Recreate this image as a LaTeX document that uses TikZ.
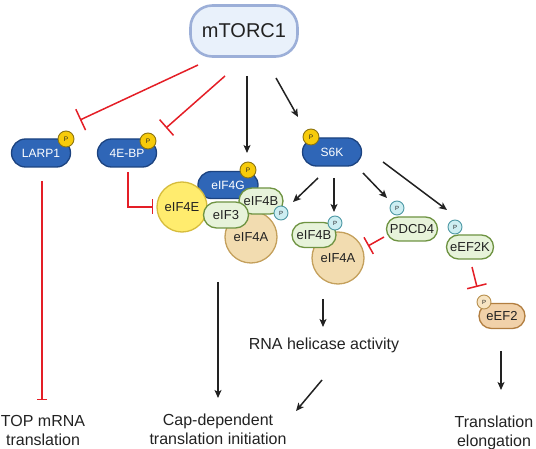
\documentclass[tikz,border=0pt]{standalone}
\usepackage{fontspec}
\setmainfont{Liberation Sans}
\usetikzlibrary{arrows.meta,shapes.misc}
\definecolor{bluef}{HTML}{2F66B7}
\definecolor{blued}{HTML}{1C4380}
\definecolor{mtf}{HTML}{E9F1FB}
\definecolor{mtd}{HTML}{9CAFD8}
\definecolor{yelf}{HTML}{F7CB0A}
\definecolor{yeld}{HTML}{8C7410}
\definecolor{cyf}{HTML}{CDEEF2}
\definecolor{cyd}{HTML}{4E99A5}
\definecolor{e4ef}{HTML}{FFEC6E}
\definecolor{e4ed}{HTML}{D6BC3C}
\definecolor{grf}{HTML}{E7F3DA}
\definecolor{grd}{HTML}{6E9342}
\definecolor{bgf}{HTML}{F2DCB0}
\definecolor{bgd}{HTML}{C4A05C}
\definecolor{eef}{HTML}{F1D1A9}
\definecolor{eed}{HTML}{B27E40}
\definecolor{pbf}{HTML}{F7E4C2}
\definecolor{pbd}{HTML}{B8904E}
\definecolor{inhred}{HTML}{E41E26}
\definecolor{txt}{HTML}{222222}
\tikzset{
  mtbox/.style={rectangle, rounded corners=22pt, draw=mtd, line width=2.6pt, fill=mtf,
    minimum width=107pt, minimum height=51pt, inner sep=0pt, text=txt,
    font=\fontsize{20}{24}\selectfont},
  bluepill/.style={rounded rectangle, draw=blued, line width=1.3pt, fill=bluef,
    minimum width=59pt, minimum height=28pt, inner sep=0pt, text=white,
    font=\fontsize{12}{14}\selectfont},
  greenpill/.style={rounded rectangle, draw=grd, line width=1.3pt, fill=grf,
    minimum height=25pt, inner sep=0pt, text=txt,
    font=\fontsize{13}{15}\selectfont},
  beigecirc/.style={circle, draw=bgd, line width=1.3pt, fill=bgf,
    minimum size=52pt, inner sep=0pt, text=txt, font=\fontsize{13}{15}\selectfont},
  yelcirc/.style={circle, draw=e4ed, line width=1.3pt, fill=e4ef,
    minimum size=50pt, inner sep=0pt, text=txt, font=\fontsize{13}{15}\selectfont},
  eefpill/.style={rounded rectangle, draw=eed, line width=1.3pt, fill=eef,
    minimum width=46pt, minimum height=25pt, inner sep=0pt, text=txt,
    font=\fontsize{13}{15}\selectfont},
  pyel/.style={circle, draw=yeld, line width=0.9pt, fill=yelf, minimum size=16pt,
    inner sep=0pt, text=txt, font=\fontsize{6.5}{7}\selectfont},
  pcy/.style={circle, draw=cyd, line width=0.9pt, fill=cyf, minimum size=14pt,
    inner sep=0pt, text=txt, font=\fontsize{6}{7}\selectfont},
  pbe/.style={circle, draw=pbd, line width=0.9pt, fill=pbf, minimum size=14pt,
    inner sep=0pt, text=txt, font=\fontsize{6}{7}\selectfont},
  lbl/.style={align=center, inner sep=0pt, text=txt, font=\fontsize{16}{19}\selectfont},
  act/.style={draw=txt, line width=1.5pt, -{Stealth[length=8pt,width=7pt,inset=2pt]}},
  inh/.style={draw=inhred, line width=1.5pt, -{Bar[width=#1,line width=1.5pt]}},
  inh/.default=20pt
}
\begin{document}
\begin{tikzpicture}[x=1pt,y=-1pt]
\useasboundingbox (0,0) rectangle (536,449);
% main node
\node[mtbox] (mtorc) at (244,31) {mTORC1};
% first row
\node[bluepill] (larp1) at (41,153) {LARP1};
\node[pyel] (larp1p) at (66,139) {P};
\node[bluepill] (ebp) at (127,153) {4E-BP};
\node[pyel] (ebpp) at (148,141) {P};
\node[bluepill] (s6k) at (332,152) {S6K};
\node[pyel] (s6kp) at (311,137) {P};
% initiation complex
\node[beigecirc] (eif4aa) at (251,237) {\raisebox{-8pt}{eIF4A}};
\node[bluepill, minimum width=60pt, minimum height=27pt] (eif4g) at (228,185) {eIF4G};
\node[pyel] (eif4gp) at (248,170) {P};
\node[yelcirc] (eif4e) at (182,207) {eIF4E};
\node[greenpill, minimum width=44pt, minimum height=26pt] (eif4ba) at (261,201) {eIF4B};
\node[pcy] (eif4bap) at (281,213) {P};
\node[greenpill, minimum width=45pt, minimum height=26pt] (eif3) at (226,215) {eIF3};
% S6K targets
\node[beigecirc] (eif4ab) at (338,258) {\raisebox{-6pt}{eIF4A}};
\node[greenpill, minimum width=44pt] (eif4bb) at (314,235) {eIF4B};
\node[pcy] (eif4bbp) at (335,223) {P};
\node[greenpill, minimum width=51pt, minimum height=24pt] (pdcd4) at (412,229) {PDCD4};
\node[pcy] (pdcd4p) at (397,208) {P};
\node[greenpill, minimum width=47pt, minimum height=24pt] (eef2k) at (470,247) {eEF2K};
\node[pcy] (eef2kp) at (455,227) {P};
\node[eefpill] (eef2) at (502,316) {eEF2};
\node[pbe] (eef2p) at (484,302) {P};
% outcome labels
\node[lbl] (top) at (43,430) {TOP mRNA\\translation};
\node[lbl] (cap) at (218,429) {Cap-dependent\\translation initiation};
\node[lbl] (heli) at (324,345) {RNA helicase activity};
\node[lbl] (elong) at (494,433) {Translation\\elongation};
% connectors from mTORC1
\draw[inh=23pt] ([shift={(-46,34)}]mtorc.center) -- ([shift={(39,-33)}]larp1.center);
\draw[inh=21pt] ([shift={(-19,45)}]mtorc.center) -- ([shift={(39,-25)}]ebp.center);
\draw[act] ([shift={(3,45)}]mtorc.center) -- ([shift={(19,-32)}]eif4g.center);
\draw[act] ([shift={(32,47)}]mtorc.center) -- ([shift={(-34,-35)}]s6k.center);
% LARP1 and 4E-BP
\draw[inh=10pt] ([shift={(1,28)}]larp1.center) -- ([shift={(-1,-30)}]top.center);
\draw[inh=15pt] ([shift={(1,19)}]ebp.center) |- ([shift={(-29,0)}]eif4e.center);
% S6K
\draw[act] ([shift={(-14,26)}]s6k.center) -- ([shift={(32,1)}]eif4ba.center);
\draw[act] ([shift={(2,26)}]s6k.center) -- ([shift={(20,-23)}]eif4bb.center);
\draw[act] ([shift={(31,21)}]s6k.center) -- ([shift={(-25,-31)}]pdcd4.center);
\draw[act] ([shift={(51,10)}]s6k.center) -- ([shift={(-23,-37)}]eef2k.center);
\draw[inh=19pt] ([shift={(-28,8)}]pdcd4.center) -- ([shift={(30,-12)}]eif4ab.center);
\draw[inh=20pt] ([shift={(2,20)}]eef2k.center) -- ([shift={(-25,-29)}]eef2.center);
% outcomes
\draw[act] ([shift={(-8,67)}]eif3.center) -- ([shift={(0,-31)}]cap.center);
\draw[act] ([shift={(-15,41)}]eif4ab.center) -- ([shift={(-1,-18)}]heli.center);
\draw[act] ([shift={(-2,35)}]heli.center) -- ([shift={(78,-18)}]cap.center);
\draw[act] ([shift={(-1,35)}]eef2.center) -- ([shift={(7,-43)}]elong.center);
\end{tikzpicture}
\end{document}
